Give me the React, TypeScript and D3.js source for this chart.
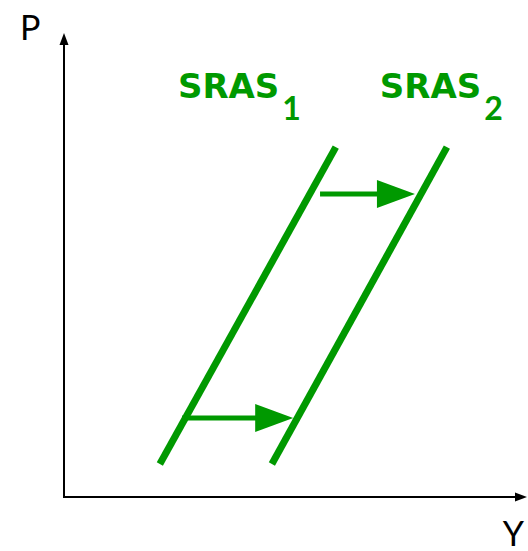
import React from 'react';
import * as d3 from 'd3';

// curves in chart units (Y on x, P on y), 0..10 on both axes
const curveNames = ['SRAS1', 'SRAS2'];
const curveY = [
  [2.07, 5.87],
  [4.49, 8.27]
];
const curveP = [
  [0.71, 7.54],
  [0.71, 7.54]
];

// shift arrows: start Y, end Y, level P
const shiftFromY = [5.53, 2.55];
const shiftToY = [7.58, 4.95];
const shiftP = [6.53, 1.7];

const labelMain = ['SRAS', 'SRAS'];
const labelSub = ['1', '2'];
const labelY = [2.46, 6.82];
const labelP = [8.6, 8.6];

const axisLabels = { x: 'Y', y: 'P' };

const GREEN = '#009900';

export default function App(): JSX.Element {
  const width = 528;
  const height = 551;

  const x = d3.scaleLinear().domain([0, 10]).range([64, 527]);
  const y = d3.scaleLinear().domain([0, 10]).range([497, 33]);

  const line = d3
    .line<[number, number]>()
    .x((d) => x(d[0]))
    .y((d) => y(d[1]));

  const headLen = 38;
  const headHalf = 14;

  return (
    <svg
      width={width}
      height={height}
      style={{ position: 'absolute', left: 0, top: 0, background: '#fff' }}
    >
      {/* axes */}
      <line x1={x(0)} y1={y(0)} x2={x(10) - 10} y2={y(0)} stroke="#000" strokeWidth={2} />
      <path
        d={`M${x(10)},${y(0)} L${x(10) - 12},${y(0) - 4.5} L${x(10) - 12},${y(0) + 4.5} Z`}
        fill="#000"
      />
      <line x1={x(0)} y1={y(0) + 1} x2={x(0)} y2={y(10) + 10} stroke="#000" strokeWidth={2} />
      <path
        d={`M${x(0)},${y(10)} L${x(0) - 4.5},${y(10) + 12} L${x(0) + 4.5},${y(10) + 12} Z`}
        fill="#000"
      />
      <text
        x={x(0) - 44}
        y={y(10) + 7}
        fontFamily="Lato, 'DejaVu Sans', sans-serif"
        fontSize={34}
        fill="#000"
      >
        {axisLabels.y}
      </text>
      <text
        x={x(10) - 3}
        y={y(0) + 49}
        textAnchor="end"
        fontFamily="Lato, 'DejaVu Sans', sans-serif"
        fontSize={34}
        fill="#000"
      >
        {axisLabels.x}
      </text>

      {/* SRAS curves */}
      {curveNames.map((name, i) => (
        <path
          key={name}
          d={line([
            [curveY[i][0], curveP[i][0]],
            [curveY[i][1], curveP[i][1]]
          ]) || ''}
          stroke={GREEN}
          strokeWidth={7}
          fill="none"
        />
      ))}

      {/* shift arrows */}
      {shiftP.map((p, i) => {
        const x0 = x(shiftFromY[i]);
        const x1 = x(shiftToY[i]);
        const yy = y(p);
        return (
          <g key={i}>
            <line x1={x0} y1={yy} x2={x1 - headLen + 2} y2={yy} stroke={GREEN} strokeWidth={5} />
            <path
              d={`M${x1},${yy} L${x1 - headLen},${yy - headHalf} L${x1 - headLen},${yy + headHalf} Z`}
              fill={GREEN}
            />
          </g>
        );
      })}

      {/* labels */}
      {labelMain.map((t, i) => (
        <text
          key={i}
          x={x(labelY[i])}
          y={y(labelP[i])}
          fontFamily="'DejaVu Sans', sans-serif"
          fontWeight="bold"
          fontSize={34}
          fill={GREEN}
        >
          {t}
          <tspan dx={3} dy={22} fontFamily="Lato, 'DejaVu Sans', sans-serif" fontSize={32}>
            {labelSub[i]}
          </tspan>
        </text>
      ))}
    </svg>
  );
}
